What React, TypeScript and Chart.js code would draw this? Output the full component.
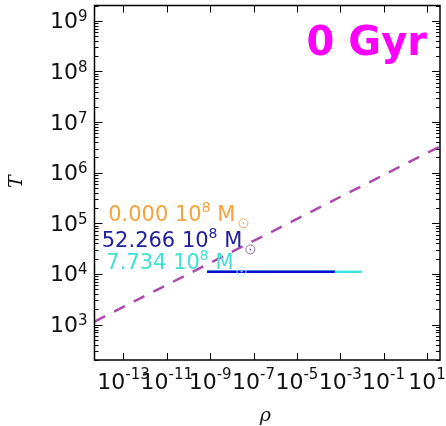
import React, { useEffect, useRef } from 'react';
import { Chart, registerables } from 'chart.js';
Chart.register(...registerables);

// ---- data ----
const rhoRange = [4.6e-15, 40];
const tRange = [200, 2e9];
const xTickExps = [-13, -11, -9, -7, -5, -3, -1, 1];
const yTickExps = [3, 4, 5, 6, 7, 8, 9];

const dashRho = [4.6e-15, 40];
const dashT = [1150, 3.3e6];

const cyanRho = [7.2e-10, 1e-2];
const cyanT = [1.1e4, 1.1e4];
const blueRho = [7.2e-10, 5.6e-4];
const blueT = [1.1e4, 1.1e4];

const markerLabels = ['0.000', '52.266', '7.734'];
const markerRho = [3.4e-8, 7.1e-8, 2.8e-8];
const markerT = [1e5, 3.05e4, 1.12e4];
const textColors = ['#f5a33a', '#2020a0', '#40e0d8'];
const ringColors = ['#f0a860', '#8a70b8', '#a8f0f0'];
const unitLabel = { base: '10', exp: '8', unit: 'M' };
const panelLabel = '0 Gyr';
const xTitle = 'ρ';
const yTitle = 'T';

const drawPow = (ctx: any, exp: number, x: number, base: number, align: 'center' | 'right', mainSize: number, supSize: number, raise: number) => {
  const main = '10';
  const sup = String(exp).replace('-', '\u2212').replace('\u2212', '-');
  ctx.font = `${mainSize}px "DejaVu Sans"`;
  const w1 = ctx.measureText(main).width;
  ctx.font = `${supSize}px "DejaVu Sans"`;
  const w2 = ctx.measureText(sup).width;
  const total = w1 + w2;
  let left = align === 'center' ? x - total / 2 : x - total;
  ctx.textAlign = 'left';
  ctx.textBaseline = 'alphabetic';
  ctx.font = `${mainSize}px "DejaVu Sans"`;
  ctx.fillText(main, left, base);
  ctx.font = `${supSize}px "DejaVu Sans"`;
  ctx.fillText(sup, left + w1, base - raise);
};

const decor = {
  id: 'decor',
  afterDatasetsDraw(chart: any) {
    const { ctx } = chart;
    const meta = chart.getDatasetMeta(3);
    ctx.save();
    meta.data.forEach((pt: any, i: number) => {
      const mainFont = '21px "DejaVu Sans"';
      const supFont = '14px "DejaVu Sans"';
      const p1 = markerLabels[i] + ' ' + unitLabel.base;
      const p2 = unitLabel.exp;
      const p3 = ' ' + unitLabel.unit;
      ctx.font = mainFont;
      const w1 = ctx.measureText(p1).width;
      const w3 = ctx.measureText(p3).width;
      ctx.font = supFont;
      const w2 = ctx.measureText(p2).width;
      const right = pt.x - 8;
      const base = pt.y - 2;
      let x = right - (w1 + w2 + w3);
      ctx.fillStyle = textColors[i];
      ctx.textBaseline = 'alphabetic';
      ctx.textAlign = 'left';
      ctx.font = mainFont;
      ctx.fillText(p1, x, base);
      x += w1;
      ctx.font = supFont;
      ctx.fillText(p2, x, base - 9);
      x += w2;
      ctx.font = mainFont;
      ctx.fillText(p3, x, base);
    });
    ctx.restore();
  },
  afterDraw(chart: any) {
    const { ctx, chartArea: a, scales } = chart;
    const xs = scales.x;
    const ys = scales.y;
    ctx.save();
    ctx.strokeStyle = '#000';
    ctx.lineWidth = 1;
    // y ticks
    ctx.beginPath();
    for (let e = 2; e <= 9; e++) {
      for (let k = 1; k <= 9; k++) {
        const v = k * Math.pow(10, e);
        if (v < tRange[0] || v > tRange[1]) continue;
        const py = Math.round(ys.getPixelForValue(v)) + 0.5;
        const len = k === 1 ? 8 : 4;
        ctx.moveTo(a.left, py);
        ctx.lineTo(a.left + len, py);
        ctx.moveTo(a.right, py);
        ctx.lineTo(a.right - len, py);
      }
    }
    // x ticks
    xTickExps.forEach((e) => {
      const px = Math.round(xs.getPixelForValue(Math.pow(10, e))) + 0.5;
      ctx.moveTo(px, a.bottom);
      ctx.lineTo(px, a.bottom - 7);
      ctx.moveTo(px, a.top);
      ctx.lineTo(px, a.top + 7);
    });
    ctx.stroke();
    // frame
    ctx.lineWidth = 1.5;
    ctx.strokeRect(a.left, a.top, a.right - a.left, a.bottom - a.top);
    // tick labels
    ctx.fillStyle = '#111';
    yTickExps.forEach((e) => {
      const py = ys.getPixelForValue(Math.pow(10, e));
      drawPow(ctx, e, a.left - 7, py + 7.5, 'right', 22, 15, 7);
    });
    xTickExps.forEach((e) => {
      const px = xs.getPixelForValue(Math.pow(10, e));
      drawPow(ctx, e, px, a.bottom + 28.5, 'center', 22, 15, 10);
    });
    // titles
    ctx.font = 'italic 19px "DejaVu Serif"';
    ctx.textAlign = 'center';
    ctx.textBaseline = 'middle';
    ctx.fillText(xTitle, (a.left + a.right) / 2 - 2, 416);
    ctx.save();
    ctx.translate(17, (a.top + a.bottom) / 2 - 1);
    ctx.rotate(-Math.PI / 2);
    ctx.fillText(yTitle, 0, 0);
    ctx.restore();
    // panel label
    ctx.fillStyle = '#ff00ff';
    ctx.font = 'bold 40px "DejaVu Sans"';
    ctx.textAlign = 'right';
    ctx.textBaseline = 'alphabetic';
    ctx.fillText(panelLabel, a.right - 13, 55);
    ctx.restore();
  },
};

const zeroPad = (s: any) => {
  s.paddingTop = 0;
  s.paddingBottom = 0;
  s.paddingLeft = 0;
  s.paddingRight = 0;
};

export default function App() {
  const ref = useRef<HTMLCanvasElement | null>(null);
  useEffect(() => {
    if (!ref.current) return;
    const pts = (xs: number[], ys: number[]) => xs.map((x, i) => ({ x, y: ys[i] }));
    const chart = new Chart(ref.current, {
      type: 'line',
      data: {
        datasets: [
          {
            data: pts(cyanRho, cyanT),
            borderColor: '#3ce6e0',
            borderWidth: 2.5,
            pointRadius: 0,
            order: 4,
          },
          {
            data: pts(blueRho, blueT),
            borderColor: '#0a0ad0',
            borderWidth: 2.5,
            pointRadius: 0,
            order: 3,
          },
          {
            data: pts(dashRho, dashT),
            borderColor: '#ad4aad',
            borderWidth: 2.5,
            borderDash: [12, 10],
            pointRadius: 0,
            order: 2,
          },
          {
            data: pts(markerRho, markerT),
            showLine: false,
            pointStyle: 'circle',
            pointRadius: 4.5,
            pointBorderWidth: 1,
            pointBorderColor: ringColors,
            pointBackgroundColor: 'rgba(0,0,0,0)',
            order: 1,
          },
          {
            data: pts(markerRho, markerT),
            showLine: false,
            pointStyle: 'circle',
            pointRadius: 1,
            pointBorderWidth: 0,
            pointBackgroundColor: ringColors,
            order: 0,
          },
        ] as any,
      },
      options: {
        animation: false,
        responsive: false,
        layout: { padding: { top: 5, right: 6, left: 0, bottom: 0 } },
        plugins: { legend: { display: false }, tooltip: { enabled: false } },
        scales: {
          x: {
            type: 'logarithmic',
            min: rhoRange[0],
            max: rhoRange[1],
            grid: { display: false, drawTicks: false },
            border: { display: false },
            ticks: { display: false },
            afterBuildTicks: (s: any) => {
              s.ticks = xTickExps.map((e) => ({ value: Math.pow(10, e) }));
            },
            afterFit: (s: any) => {
              s.height = 66;
              zeroPad(s);
            },
          },
          y: {
            type: 'logarithmic',
            min: tRange[0],
            max: tRange[1],
            grid: { display: false, drawTicks: false },
            border: { display: false },
            ticks: { display: false },
            afterBuildTicks: (s: any) => {
              s.ticks = yTickExps.map((e) => ({ value: Math.pow(10, e) }));
            },
            afterFit: (s: any) => {
              s.width = 94.5;
              zeroPad(s);
            },
          },
        },
      } as any,
      plugins: [decor],
    });
    return () => chart.destroy();
  }, []);
  return (
    <div style={{ position: 'fixed', left: 0, top: 0, width: 446, height: 426, background: '#fff' }}>
      <canvas ref={ref} width={446} height={426} style={{ display: 'block' }} />
    </div>
  );
}
